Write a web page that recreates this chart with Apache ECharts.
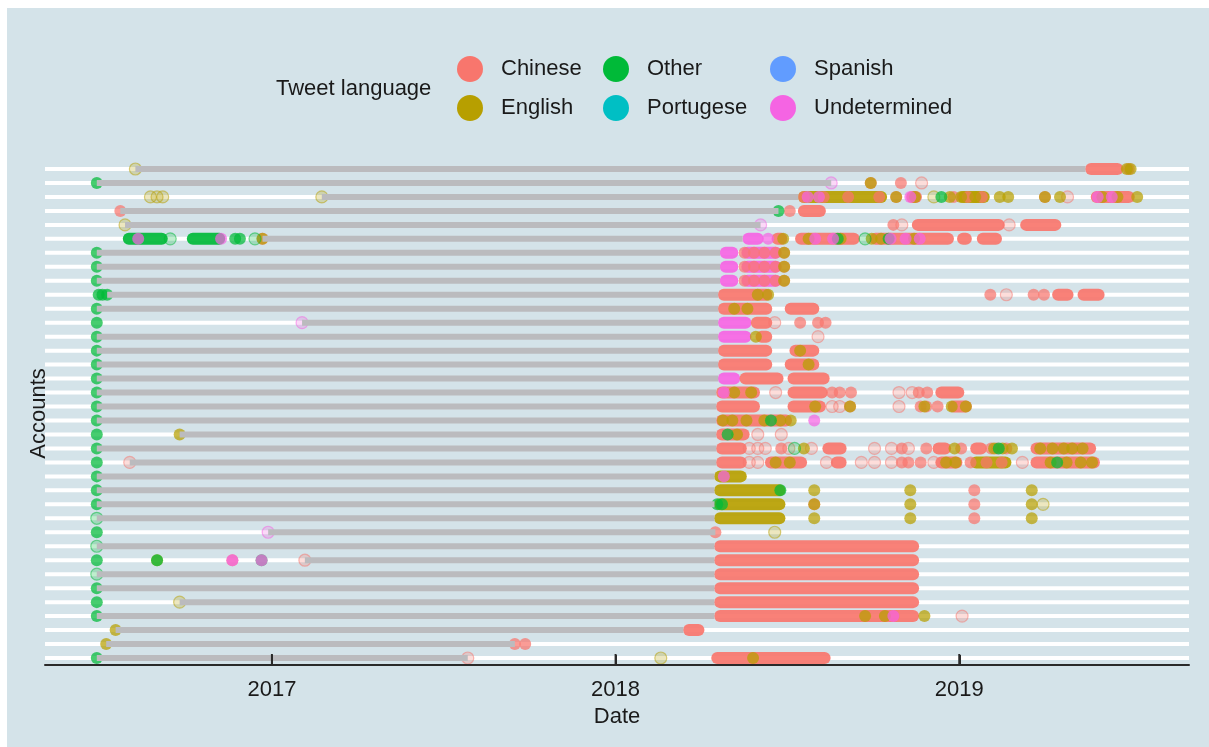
<!DOCTYPE html>
<html><head><meta charset="utf-8">
<script src="https://cdn.jsdelivr.net/npm/echarts@6/dist/echarts.min.js"></script>
<style>html,body{margin:0;padding:0;background:#fff}#c{width:1209px;height:747px}</style>
</head><body><div id="c"></div>
<script>
const accounts = ['A01','A02','A03','A04','A05','A06','A07','A08','A09','A10','A11','A12','A13','A14','A15','A16','A17','A18',
  'A19','A20','A21','A22','A23','A24','A25','A26','A27','A28','A29','A30','A31','A32','A33','A34','A35','A36'];
const languages = ['Chinese','English','Other','Portugese','Spanish','Undetermined'];
const langColors = ['#F8766D','#B79F00','#00BA38','#00BFC4','#619CFF','#F564E3'];
const yearTicks = ['2017','2018','2019'];

// grey inactive span per account (start, end)
const inactiveStart = ['2016-08-09','2016-06-29','2017-02-23','2016-07-24','2016-07-29','2016-12-22','2016-06-29','2016-06-29','2016-06-29',
  '2016-07-10','2016-06-29','2017-02-02','2016-06-29','2016-06-29','2016-06-29','2016-06-29','2016-06-29','2016-06-29','2016-06-29',
  '2016-09-25','2016-06-29','2016-08-03','2016-06-29','2016-06-29','2016-06-29','2016-06-29','2016-12-28','2016-06-29','2017-02-05',
  '2016-06-29','2016-06-29','2016-09-25','2016-06-29','2016-07-19','2016-07-09','2016-06-29'];
const inactiveEnd = ['2019-05-15','2018-08-18','2018-07-14','2018-06-23','2018-06-04','2018-05-16','2018-04-22','2018-04-22','2018-04-22',
  '2018-04-20','2018-04-20','2018-04-20','2018-04-20','2018-04-20','2018-04-20','2018-04-20','2018-04-18','2018-04-18','2018-04-18',
  '2018-04-18','2018-04-18','2018-04-18','2018-04-16','2018-04-16','2018-04-16','2018-04-16','2018-04-17','2018-04-16','2018-04-16',
  '2018-04-16','2018-04-16','2018-04-16','2018-04-16','2018-03-14','2017-09-16','2017-07-28'];

// dense bursts of tweets: [account row, from, to, language]
const bursts = [
  [1,'2019-05-21','2019-06-18','Chinese'],
  [3,'2018-07-20','2018-10-10','English'],[3,'2018-11-12','2018-11-16','Chinese'],[3,'2019-01-05','2019-01-27','English'],[3,'2019-05-27','2019-06-30','Chinese'],
  [4,'2018-07-20','2018-08-06','Chinese'],
  [5,'2018-11-18','2019-02-12','Chinese'],[5,'2019-03-13','2019-04-13','Chinese'],
  [6,'2016-08-02','2016-09-06','Other'],[6,'2016-10-09','2016-11-06','Other'],[6,'2018-05-22','2018-06-01','Undetermined'],
  [6,'2018-06-22','2018-06-26','Chinese'],[6,'2018-07-17','2018-09-11','Chinese'],[6,'2018-10-04','2018-12-20','Chinese'],
  [6,'2019-01-05','2019-01-08','Chinese'],[6,'2019-01-26','2019-02-09','Chinese'],
  [7,'2018-04-28','2018-05-05','Undetermined'],[7,'2018-05-21','2018-06-20','Undetermined'],
  [8,'2018-04-28','2018-05-05','Undetermined'],[8,'2018-05-21','2018-06-20','Undetermined'],
  [9,'2018-04-28','2018-05-05','Undetermined'],[9,'2018-05-21','2018-06-20','Undetermined'],
  [10,'2018-04-26','2018-06-10','Chinese'],[10,'2019-04-16','2019-04-26','Chinese'],[10,'2019-05-13','2019-05-29','Chinese'],
  [11,'2018-04-26','2018-06-10','Chinese'],[11,'2018-07-06','2018-07-30','Chinese'],
  [12,'2018-04-26','2018-05-19','Undetermined'],[12,'2018-05-31','2018-06-10','Chinese'],
  [13,'2018-04-26','2018-05-19','Undetermined'],[13,'2018-06-05','2018-06-10','Chinese'],
  [14,'2018-04-26','2018-06-10','Chinese'],[14,'2018-07-11','2018-07-30','Chinese'],
  [15,'2018-04-26','2018-06-10','Chinese'],[15,'2018-07-06','2018-07-30','Chinese'],
  [16,'2018-04-26','2018-05-07','Undetermined'],[16,'2018-05-19','2018-06-22','Chinese'],[16,'2018-07-09','2018-08-10','Chinese'],
  [17,'2018-04-24','2018-05-28','Chinese'],[17,'2018-07-09','2018-08-08','Chinese'],[17,'2018-12-13','2018-12-31','Chinese'],
  [18,'2018-04-24','2018-05-28','Chinese'],[18,'2018-07-09','2018-08-06','Chinese'],[18,'2018-12-26','2019-01-08','Chinese'],
  [19,'2018-04-24','2018-07-01','Chinese'],
  [20,'2018-04-24','2018-05-17','Chinese'],
  [21,'2018-04-24','2018-05-14','Chinese'],[21,'2018-08-15','2018-08-28','Chinese'],[21,'2018-12-10','2018-12-17','Chinese'],
  [21,'2019-01-19','2019-01-24','Chinese'],[21,'2019-03-24','2019-05-20','Chinese'],
  [22,'2018-04-24','2018-05-14','Chinese'],[22,'2018-06-15','2018-07-17','Chinese'],[22,'2018-08-24','2018-08-28','Chinese'],
  [22,'2018-12-13','2018-12-29','Chinese'],[22,'2019-01-19','2019-02-19','English'],[22,'2019-03-24','2019-05-24','Chinese'],
  [23,'2018-04-22','2018-05-14','English'],
  [24,'2018-04-22','2018-06-24','English'],[25,'2018-04-22','2018-06-24','English'],[26,'2018-04-22','2018-06-24','English'],
  [28,'2018-04-22','2018-11-13','Chinese'],[29,'2018-04-22','2018-11-13','Chinese'],[30,'2018-04-22','2018-11-13','Chinese'],
  [31,'2018-04-22','2018-11-13','Chinese'],[32,'2018-04-22','2018-11-13','Chinese'],[33,'2018-04-22','2018-11-13','Chinese'],
  [34,'2018-03-20','2018-03-30','Chinese'],
  [36,'2018-04-19','2018-08-11','Chinese']
];

// single tweets: [account row, date]
const chineseTweets = [
  [1,'2019-06-30'],[2,'2018-09-29'],[2,'2018-10-31'],
  [3,'2018-07-20'],[3,'2018-08-10'],[3,'2018-09-05'],[3,'2018-10-08'],[3,'2018-10-26'],[3,'2018-12-26'],[3,'2019-01-10'],[3,'2019-01-25'],[3,'2019-04-02'],
  [4,'2016-07-24'],[4,'2018-07-05'],[5,'2018-10-23'],[6,'2016-12-22'],
  [7,'2018-05-18'],[7,'2018-05-28'],[7,'2018-06-08'],[7,'2018-06-20'],[7,'2018-06-29'],
  [8,'2018-05-18'],[8,'2018-05-28'],[8,'2018-06-08'],[8,'2018-06-20'],[8,'2018-06-29'],
  [9,'2018-05-18'],[9,'2018-05-28'],[9,'2018-06-08'],[9,'2018-06-20'],[9,'2018-06-29'],
  [10,'2019-02-03'],[10,'2019-03-21'],[10,'2019-04-01'],
  [12,'2018-07-16'],[12,'2018-08-04'],[12,'2018-08-12'],
  [17,'2018-08-19'],[17,'2018-08-27'],[17,'2018-09-08'],[17,'2018-11-19'],[17,'2018-11-28'],
  [18,'2018-09-07'],[18,'2018-11-21'],[18,'2018-11-27'],[18,'2018-12-09'],
  [21,'2018-06-26'],[21,'2018-11-01'],[21,'2018-11-27'],[21,'2019-01-03'],[21,'2019-02-04'],[21,'2019-02-10'],[21,'2019-02-20'],
  [22,'2018-11-01'],[22,'2018-11-08'],[22,'2018-11-21'],[22,'2019-01-13'],[22,'2019-01-30'],[22,'2019-02-15'],
  [24,'2019-01-17'],[25,'2019-01-17'],[26,'2019-01-17'],[25,'2018-07-31'],
  [27,'2018-04-17'],[29,'2016-11-20'],[33,'2018-10-23'],[35,'2017-09-16'],[35,'2017-09-27']
];
const englishTweets = [
  [1,'2019-06-28'],[1,'2019-07-02'],[2,'2018-09-29'],
  [3,'2018-10-26'],[3,'2018-11-15'],[3,'2018-12-22'],[3,'2019-01-03'],[3,'2019-01-18'],[3,'2019-02-13'],[3,'2019-02-22'],
  [3,'2019-04-02'],[3,'2019-04-18'],[3,'2019-06-02'],[3,'2019-06-18'],[3,'2019-07-09'],
  [6,'2016-12-22'],[6,'2018-06-28'],[6,'2018-07-25'],[6,'2018-08-28'],[6,'2018-09-30'],[6,'2018-10-10'],[6,'2018-11-14'],
  [7,'2018-06-29'],[8,'2018-06-29'],[9,'2018-06-29'],
  [10,'2018-06-01'],[10,'2018-06-12'],[11,'2018-05-07'],[11,'2018-05-21'],[13,'2018-05-30'],[14,'2018-07-16'],[15,'2018-07-25'],
  [17,'2018-05-07'],[17,'2018-05-25'],
  [18,'2018-08-01'],[18,'2018-09-07'],[18,'2018-11-25'],[18,'2018-12-24'],[18,'2019-01-08'],
  [19,'2018-04-25'],[19,'2018-05-05'],[19,'2018-05-20'],[19,'2018-06-08'],[19,'2018-06-25'],[19,'2018-07-06'],
  [20,'2016-09-25'],[20,'2018-05-10'],
  [21,'2018-07-20'],[21,'2018-12-27'],[21,'2019-02-07'],[21,'2019-02-16'],[21,'2019-02-26'],[21,'2019-03-28'],[21,'2019-04-10'],
  [21,'2019-04-22'],[21,'2019-05-01'],[21,'2019-05-12'],
  [22,'2018-06-20'],[22,'2018-07-05'],[22,'2018-12-18'],[22,'2018-12-28'],[22,'2019-04-08'],[22,'2019-04-25'],[22,'2019-05-10'],[22,'2019-05-22'],
  [24,'2018-07-31'],[24,'2018-11-10'],[24,'2019-03-19'],[25,'2018-07-31'],[25,'2018-11-10'],[25,'2019-03-19'],
  [26,'2018-07-31'],[26,'2018-11-10'],[26,'2019-03-19'],
  [29,'2016-09-01'],[33,'2018-09-23'],[33,'2018-10-14'],[33,'2018-11-25'],[34,'2016-07-19'],[35,'2016-07-09'],[36,'2018-05-27']
];
const otherTweets = [
  [2,'2016-06-29'],[7,'2016-06-29'],[8,'2016-06-29'],[9,'2016-06-29'],[11,'2016-06-29'],[12,'2016-06-29'],[13,'2016-06-29'],
  [14,'2016-06-29'],[15,'2016-06-29'],[16,'2016-06-29'],[17,'2016-06-29'],[18,'2016-06-29'],[19,'2016-06-29'],[20,'2016-06-29'],
  [21,'2016-06-29'],[22,'2016-06-29'],[23,'2016-06-29'],[24,'2016-06-29'],[25,'2016-06-29'],[27,'2016-06-29'],[29,'2016-06-29'],
  [31,'2016-06-29'],[32,'2016-06-29'],[33,'2016-06-29'],[36,'2016-06-29'],
  [10,'2016-07-01'],[10,'2016-07-05'],[10,'2016-07-10'],
  [3,'2018-12-13'],[4,'2018-06-23'],[6,'2016-11-23'],[6,'2016-11-28'],[6,'2018-08-25'],[6,'2018-10-18'],
  [19,'2018-06-15'],[20,'2018-04-30'],[21,'2019-02-12'],[22,'2019-04-15'],[24,'2018-06-25'],[25,'2018-04-19'],[25,'2018-04-24'],
  [29,'2016-09-01'],[29,'2016-12-21']
];
const portugeseTweets = [];
const spanishTweets = [];
const undeterminedTweets = [
  [3,'2018-07-24'],[3,'2018-08-05'],[3,'2018-11-10'],[3,'2019-05-28'],[3,'2019-06-12'],
  [6,'2016-08-12'],[6,'2016-11-08'],[6,'2018-06-12'],[6,'2018-08-01'],[6,'2018-08-20'],[6,'2018-10-20'],[6,'2018-11-05'],[6,'2018-11-20'],
  [17,'2018-04-26'],[19,'2018-07-31'],[23,'2018-04-26'],[29,'2016-11-20'],[29,'2016-12-21'],[33,'2018-10-23']
];
// faint (pale) tweets: [account row, date, language]
const faintTweets = [
  [1,'2016-08-09','English'],[3,'2016-08-25','English'],[3,'2016-09-01','English'],[3,'2016-09-07','English'],[3,'2017-02-23','English'],
  [3,'2018-12-05','English'],[3,'2019-04-26','Chinese'],[5,'2016-07-29','English'],[5,'2018-06-04','Undetermined'],
  [2,'2018-08-18','Undetermined'],[2,'2018-11-22','Chinese'],[5,'2018-11-01','Chinese'],[5,'2019-02-23','Chinese'],
  [6,'2016-09-15','Other'],[6,'2016-12-14','Other'],[6,'2018-09-23','Other'],
  [12,'2017-02-02','Undetermined'],[12,'2018-06-19','Chinese'],[13,'2018-08-04','Chinese'],[10,'2019-02-20','Chinese'],
  [17,'2018-06-20','Chinese'],[17,'2018-10-29','Chinese'],[17,'2018-11-12','Chinese'],
  [18,'2018-08-19','Chinese'],[18,'2018-08-27','Chinese'],[18,'2018-10-29','Chinese'],
  [20,'2018-06-01','Chinese'],[20,'2018-06-26','Chinese'],
  [21,'2018-05-23','Chinese'],[21,'2018-06-01','Chinese'],[21,'2018-06-09','Chinese'],[21,'2018-07-04','Chinese'],[21,'2018-07-10','Other'],
  [21,'2018-07-28','Chinese'],[21,'2018-10-03','Chinese'],[21,'2018-10-21','Chinese'],[21,'2018-11-08','Chinese'],
  [22,'2016-08-03','Chinese'],[22,'2018-05-23','Chinese'],[22,'2018-06-01','Chinese'],[22,'2018-08-13','Chinese'],[22,'2018-09-19','Chinese'],
  [22,'2018-10-03','Chinese'],[22,'2018-10-21','Chinese'],[22,'2018-12-05','Chinese'],[22,'2019-03-09','Chinese'],
  [25,'2019-03-31','English'],[26,'2016-06-29','Other'],[27,'2016-12-28','Undetermined'],[27,'2018-06-19','English'],
  [28,'2016-06-29','Other'],[29,'2017-02-05','Chinese'],[30,'2016-06-29','Other'],[32,'2016-09-25','English'],
  [33,'2019-01-04','Chinese'],[36,'2017-07-28','Chinese'],[36,'2018-02-18','English']
];

const tweetsByLang = [chineseTweets, englishTweets, otherTweets, portugeseTweets, spanishTweets, undeterminedTweets];
const FONT = '"Liberation Sans", Arial, Helvetica, sans-serif';
const X_MIN = '2016-05-05', X_MAX = '2019-09-02';

function rgba(hex, a) {
  const n = parseInt(hex.slice(1), 16);
  return 'rgba(' + ((n >> 16) & 255) + ',' + ((n >> 8) & 255) + ',' + (n & 255) + ',' + a + ')';
}

const scatterSeries = languages.map((lang, li) => {
  const c = langColors[li];
  const data = tweetsByLang[li].map(t => [t[1], t[0] - 1]);
  faintTweets.filter(f => f[2] === lang).forEach(f => {
    data.push({ value: [f[1], f[0] - 1], itemStyle: { color: rgba(c, 0.25), borderColor: rgba(c, 0.5), borderWidth: 1.2, opacity: 1 } });
  });
  return {
    name: lang, type: 'scatter', z: 3, symbolSize: 12, silent: true,
    itemStyle: { color: c, opacity: 0.72 },
    data: data
  };
});

const chart = echarts.init(document.getElementById('c'));
const legendBase = {
  orient: 'vertical', top: 51, itemWidth: 52, itemHeight: 26, itemGap: 13, icon: 'circle', selectedMode: false,
  itemStyle: { opacity: 1 }, textStyle: { fontSize: 22, color: '#1a1a1a', fontFamily: FONT }
};
chart.setOption({
  animation: false,
  textStyle: { fontFamily: FONT },
  graphic: [{ type: 'rect', z: -10, silent: true, shape: { x: 7, y: 8, width: 1202, height: 739 }, style: { fill: '#d4e3e9' } }],
  title: { text: 'Tweet language', left: 276, top: 78, padding: 0, textStyle: { fontSize: 22, fontWeight: 'normal', color: '#1a1a1a', fontFamily: FONT } },
  legend: [
    Object.assign({}, legendBase, { left: 452, data: [languages[0], languages[1]] }),
    Object.assign({}, legendBase, { left: 598, data: [languages[2], languages[3]] }),
    Object.assign({}, legendBase, { left: 765, data: [languages[4], languages[5]] })
  ],
  grid: { left: 45, right: 20, top: 162, bottom: 82, containLabel: false },
  xAxis: {
    type: 'time', min: X_MIN, max: X_MAX, splitNumber: 3, minInterval: 365 * 86400000, z: 10,
    axisLine: { show: true, onZero: false, lineStyle: { color: '#2a2a2a', width: 2 } },
    axisTick: { show: true, inside: true, length: 10, lineStyle: { color: '#2a2a2a', width: 2 } },
    axisLabel: { fontSize: 22, color: '#1a1a1a', margin: 14, showMinLabel: false, showMaxLabel: false,
      formatter: v => { const y = String(new Date(v).getFullYear()); return yearTicks.indexOf(y) >= 0 ? y : ''; } },
    splitLine: { show: false },
    name: 'Date', nameLocation: 'middle', nameGap: 36, nameTextStyle: { fontSize: 22, color: '#1a1a1a' }
  },
  yAxis: {
    type: 'category', data: accounts, inverse: true,
    axisLine: { show: false }, axisTick: { show: false }, axisLabel: { show: false }, splitLine: { show: false },
    name: 'Accounts', nameLocation: 'middle', nameGap: -5, nameTextStyle: { fontSize: 22, color: '#1a1a1a' }
  },
  series: [
    {
      type: 'custom', name: 'rows', z: 1, silent: true,
      data: accounts.map((a, i) => [X_MIN, i]), encode: { x: 0, y: 1 },
      renderItem: (params, api) => {
        const y = api.coord([api.value(0), api.value(1)])[1];
        const cs = params.coordSys;
        return { type: 'line', shape: { x1: cs.x, y1: y, x2: cs.x + cs.width, y2: y }, style: { stroke: '#ffffff', lineWidth: 4 } };
      }
    },
    {
      type: 'custom', name: 'bursts', z: 2, silent: true,
      data: bursts.map(b => [b[1], b[2], b[0] - 1, languages.indexOf(b[3])]), encode: { x: [0, 1], y: 2 },
      renderItem: (params, api) => {
        const p1 = api.coord([api.value(0), api.value(2)]);
        const p2 = api.coord([api.value(1), api.value(2)]);
        return { type: 'line', shape: { x1: p1[0], y1: p1[1], x2: p2[0], y2: p2[1] },
          style: { stroke: langColors[api.value(3)], lineWidth: 12, lineCap: 'round', opacity: 0.92 } };
      }
    },
    ...scatterSeries,
    {
      type: 'custom', name: 'inactive', z: 4, silent: true,
      data: inactiveStart.map((s, i) => [s, inactiveEnd[i], i]), encode: { x: [0, 1], y: 2 },
      renderItem: (params, api) => {
        const p1 = api.coord([api.value(0), api.value(2)]);
        const p2 = api.coord([api.value(1), api.value(2)]);
        return { type: 'line', shape: { x1: p1[0], y1: p1[1], x2: p2[0], y2: p2[1] }, style: { stroke: '#bbbbbe', lineWidth: 6 } };
      }
    },
    {
      // year tick marks and the baseline of the date axis, drawn above the account rows
      type: 'custom', name: 'yearTicks', z: 10, silent: true,
      data: yearTicks.map(y => [y + '-01-01', accounts.length - 1]), encode: { x: 0, y: 1 },
      renderItem: (params, api) => {
        const x = api.coord([api.value(0), api.value(1)])[0];
        const cs = params.coordSys;
        const yb = cs.y + cs.height;
        const children = [{ type: 'line', shape: { x1: x, y1: yb, x2: x, y2: yb - 11 }, style: { stroke: '#2a2a2a', lineWidth: 2 } }];
        if (params.dataIndex === 0) {
          children.push({ type: 'line', shape: { x1: cs.x, y1: yb, x2: cs.x + cs.width, y2: yb }, style: { stroke: '#2a2a2a', lineWidth: 2 } });
        }
        return { type: 'group', children: children };
      }
    }
  ]
});
</script></body></html>
